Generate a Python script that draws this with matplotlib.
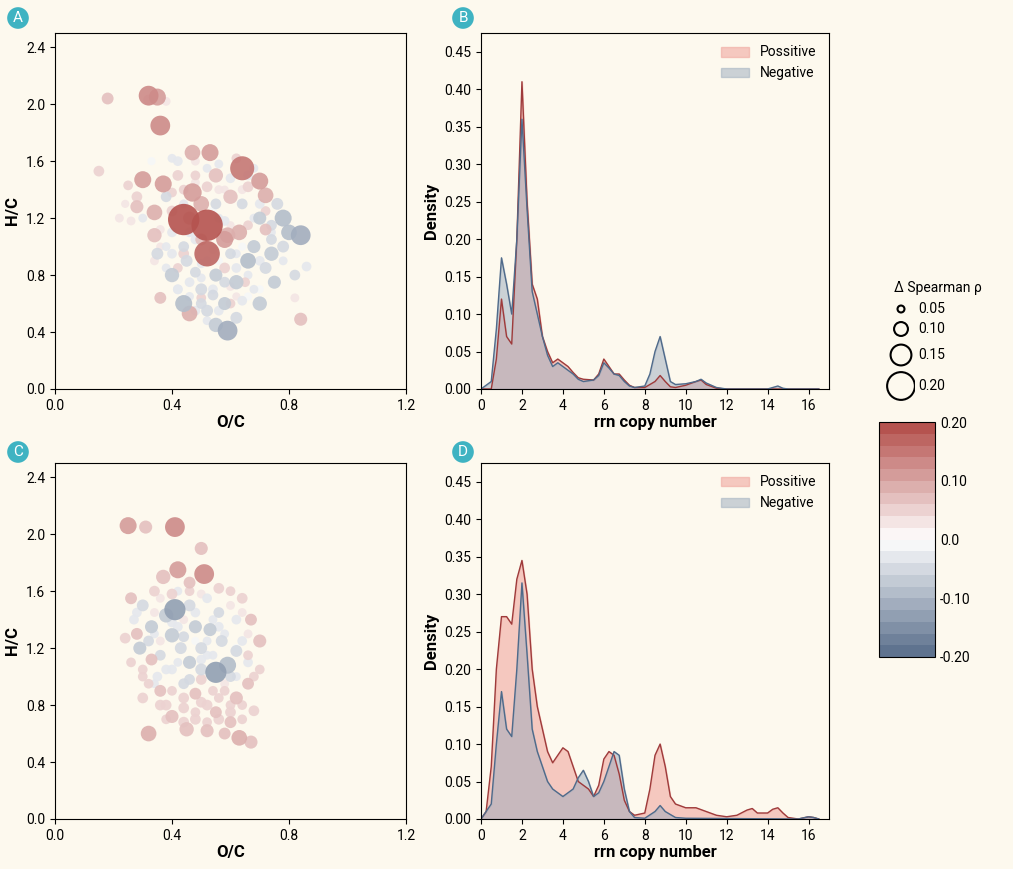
import numpy as np
import matplotlib.pyplot as plt
from matplotlib.colors import LinearSegmentedColormap, BoundaryNorm

BG = "#fdf9ee"
plt.rcParams["font.family"] = ["Roboto", "DejaVu Sans"]

# scatter A: (O/C, H/C, delta rho)
a_x = [0.44, 0.52, 0.52, 0.64, 0.36, 0.32, 0.35, 0.37, 0.47, 0.30, 0.34, 0.47, 0.53, 0.70, 0.72, 0.58, 0.63, 0.46, 0.84, 0.28,
       0.34, 0.55, 0.18, 0.15, 0.36, 0.59, 0.60, 0.50,
       0.84, 0.59, 0.78, 0.80, 0.40, 0.44, 0.55, 0.70, 0.66, 0.74, 0.75, 0.62, 0.55, 0.45, 0.35, 0.68, 0.76, 0.64, 0.58, 0.50,
       0.38, 0.70, 0.82, 0.52, 0.62, 0.44, 0.40, 0.66, 0.55, 0.72, 0.48, 0.60, 0.78, 0.86, 0.54, 0.46, 0.30, 0.40, 0.42, 0.33,
       0.28, 0.25, 0.42, 0.52, 0.62, 0.66, 0.58, 0.50, 0.65, 0.34, 0.44, 0.72, 0.26, 0.22, 0.60, 0.40, 0.50, 0.46, 0.82, 0.32, 0.38,
       0.56, 0.48, 0.68, 0.42, 0.52, 0.64, 0.74, 0.36, 0.58, 0.70, 0.48, 0.54, 0.60, 0.38, 0.66, 0.24, 0.56, 0.44, 0.62, 0.50,
       0.42, 0.46, 0.50, 0.54, 0.58, 0.62, 0.66, 0.70, 0.74, 0.78, 0.38, 0.42, 0.46, 0.50, 0.54, 0.58, 0.62, 0.66, 0.70, 0.74,
       0.40, 0.44, 0.48, 0.52, 0.56, 0.60, 0.64, 0.68, 0.72, 0.36, 0.40, 0.44, 0.48, 0.52, 0.56, 0.60, 0.64, 0.68, 0.48, 0.56]
a_y = [1.19, 1.15, 0.95, 1.55, 1.85, 2.06, 2.05, 1.44, 1.38, 1.47, 1.24, 1.66, 1.66, 1.46, 1.36, 1.05, 1.10, 0.53, 0.49, 1.28,
       1.08, 1.50, 2.04, 1.53, 0.64, 1.08, 1.35, 1.30,
       1.08, 0.41, 1.20, 1.10, 0.80, 0.60, 0.45, 0.60, 0.90, 0.95, 0.75, 0.75, 0.80, 0.90, 0.95, 1.00, 1.30, 1.30, 0.60, 0.70,
       1.35, 1.20, 0.80, 0.55, 0.50, 1.00, 1.10, 1.50, 1.30, 0.85, 0.82, 0.95, 1.00, 0.86, 0.66, 0.75, 1.20, 1.62, 1.60, 1.60,
       1.35, 1.43, 1.50, 1.42, 1.62, 1.42, 0.85, 0.64, 0.75, 0.90, 0.95, 1.12, 1.18, 1.20, 0.60, 1.25, 1.05, 1.20, 0.64, 2.03, 2.02,
       1.20, 1.05, 1.20, 0.70, 0.90, 1.00, 1.10, 1.00, 1.40, 0.70, 1.45, 1.25, 1.15, 0.85, 0.65, 1.30, 0.90, 1.30, 0.65, 0.78,
       0.70, 0.65, 0.60, 0.70, 0.75, 0.85, 0.80, 0.90, 1.05, 0.90, 1.00, 0.85, 1.10, 0.88, 0.98, 1.18, 0.95, 1.15, 1.30, 1.15,
       1.38, 1.30, 1.50, 1.55, 1.40, 1.48, 1.40, 1.55, 1.25, 1.12, 0.95, 1.40, 0.55, 0.48, 0.55, 0.72, 0.62, 0.70, 1.60, 1.58]
a_r = [0.20, 0.20, 0.16, 0.15, 0.12, 0.12, 0.10, 0.10, 0.11, 0.10, 0.09, 0.09, 0.10, 0.10, 0.09, 0.10, 0.09, 0.09, 0.07, 0.07,
       0.08, 0.08, 0.06, 0.05, 0.06, 0.09, 0.08, 0.09,
       -0.12, -0.12, -0.10, -0.09, -0.08, -0.10, -0.08, -0.08, -0.09, -0.08, -0.07, -0.08, -0.07, -0.06, -0.06, -0.07, -0.06, -0.05, -0.07, -0.06,
       -0.05, -0.07, -0.05, -0.06, -0.06, -0.05, -0.04, -0.04, -0.05, -0.06, -0.05, -0.05, -0.06, -0.04, -0.05, -0.04, -0.03, -0.03, -0.04, -0.02,
       0.05, 0.04, 0.05, 0.05, 0.04, 0.05, 0.05, 0.04, 0.04, 0.03, 0.05, 0.06, 0.03, 0.03, 0.04, 0.05, 0.06, 0.07, 0.03, 0.05, 0.03,
       -0.03, -0.04, -0.03, -0.04, -0.03, -0.02, -0.03, 0.02, 0.02, -0.02, 0.03, -0.02, 0.02, -0.03, -0.02, 0.02, -0.02, 0.02, 0.02, -0.03,
       -0.04, -0.03, -0.05, -0.04, -0.05, -0.04, -0.03, -0.04, -0.05, -0.03, -0.03, 0.04, -0.04, -0.03, 0.03, -0.04, -0.03, 0.04, -0.04, -0.05,
       0.04, -0.03, 0.04, -0.03, 0.03, -0.04, 0.03, -0.03, 0.04, 0.03, -0.04, 0.04, -0.04, -0.03, -0.04, 0.03, -0.04, -0.03, 0.03, -0.03]

# scatter C
c_x = [0.41, 0.25, 0.31, 0.50, 0.42, 0.51, 0.37, 0.32, 0.63, 0.67, 0.70, 0.45, 0.55, 0.40, 0.62, 0.48, 0.28, 0.26, 0.36, 0.60,
       0.66, 0.67, 0.33, 0.52, 0.58, 0.44, 0.64, 0.30, 0.50, 0.68, 0.24, 0.56, 0.34, 0.46, 0.40,
       0.41, 0.55, 0.59, 0.40, 0.38, 0.29, 0.33, 0.48, 0.46, 0.50, 0.53, 0.43, 0.30, 0.57, 0.62, 0.50, 0.36, 0.46, 0.56, 0.44,
       0.62, 0.35, 0.27, 0.52, 0.60, 0.40, 0.66,
       0.30, 0.38, 0.54, 0.64, 0.48, 0.36, 0.58, 0.44, 0.70, 0.26, 0.52, 0.42, 0.60, 0.34, 0.56, 0.48, 0.66, 0.32, 0.50, 0.62,
       0.28, 0.32, 0.36, 0.40, 0.44, 0.48, 0.52, 0.56, 0.60, 0.64, 0.30, 0.34, 0.38, 0.42, 0.46, 0.50, 0.54, 0.58, 0.62, 0.66,
       0.36, 0.40, 0.44, 0.48, 0.52, 0.56, 0.60, 0.64, 0.44, 0.52, 0.38, 0.58, 0.68, 0.46, 0.54, 0.34, 0.42, 0.50, 0.60, 0.64]
c_y = [2.05, 2.06, 2.05, 1.90, 1.75, 1.72, 1.70, 0.60, 0.57, 0.54, 1.25, 0.63, 0.75, 0.72, 0.85, 0.88, 1.30, 1.55, 0.90, 0.68,
       0.95, 1.40, 1.12, 0.62, 0.60, 0.78, 1.55, 0.85, 0.98, 0.76, 1.27, 1.62, 1.60, 1.66, 1.58,
       1.47, 1.03, 1.08, 1.29, 1.43, 1.20, 1.35, 1.35, 1.10, 1.20, 1.33, 1.20, 1.50, 1.25, 1.18, 1.05, 1.15, 1.50, 1.45, 0.95,
       1.40, 1.00, 1.40, 1.55, 1.00, 1.05, 1.10,
       1.00, 0.80, 0.90, 0.70, 0.70, 1.25, 1.30, 1.40, 1.05, 1.10, 1.15, 1.60, 0.80, 1.45, 0.70, 1.25, 1.30, 0.95, 0.82, 1.20,
       1.45, 1.25, 1.55, 1.38, 1.28, 1.45, 1.25, 1.35, 1.50, 1.25, 1.05, 0.95, 1.05, 1.10, 0.98, 1.12, 1.15, 0.90, 1.00, 1.15,
       0.80, 0.90, 0.85, 0.75, 0.80, 0.85, 0.75, 0.80, 0.68, 0.68, 0.70, 0.95, 1.00, 1.60, 1.40, 1.30, 1.35, 1.58, 1.60, 1.45]
c_r = [0.12, 0.10, 0.07, 0.07, 0.10, 0.12, 0.08, 0.09, 0.09, 0.07, 0.07, 0.08, 0.06, 0.07, 0.07, 0.06, 0.06, 0.06, 0.06, 0.06,
       0.06, 0.06, 0.06, 0.07, 0.06, 0.05, 0.05, 0.05, 0.05, 0.05, 0.05, 0.05, 0.05, 0.06, 0.05,
       -0.13, -0.13, -0.10, -0.08, -0.08, -0.07, -0.07, -0.07, -0.07, -0.06, -0.07, -0.06, -0.06, -0.06, -0.06, -0.06, -0.05, -0.06, -0.05, -0.05,
       -0.04, -0.04, -0.04, -0.04, -0.05, -0.04, -0.04,
       0.04, 0.05, 0.04, 0.04, 0.05, 0.03, -0.03, 0.03, 0.04, 0.04, -0.03, -0.03, 0.04, 0.03, 0.05, -0.02, 0.03, 0.04, 0.05, -0.02,
       -0.04, -0.05, 0.03, -0.04, -0.05, -0.04, -0.03, -0.04, 0.03, -0.04, 0.04, -0.03, -0.04, -0.03, -0.05, -0.04, -0.03, 0.04, -0.03, 0.04,
       0.05, 0.04, 0.05, 0.04, 0.05, 0.04, 0.05, 0.04, 0.05, 0.04, 0.04, 0.03, 0.04, 0.04, -0.03, -0.03, -0.04, 0.03, 0.04, 0.03]

# densities
bp_x = [0, 0.5, 0.75, 1.0, 1.25, 1.5, 1.75, 2.0, 2.25, 2.5, 2.75, 3.0, 3.25, 3.5, 3.75, 4.0, 4.25, 4.5, 4.75, 5.0, 5.5, 5.75, 6.0, 6.25,
        6.5, 6.75, 7.0, 7.25, 7.5, 8.0, 8.5, 8.75, 9.0, 9.25, 9.5, 10.0, 10.5, 10.75, 11.0, 11.5, 12.0, 16.5]
bp_y = [0, 0.0, 0.04, 0.12, 0.07, 0.06, 0.20, 0.41, 0.25, 0.14, 0.12, 0.07, 0.05, 0.035, 0.04, 0.035, 0.03, 0.022, 0.015, 0.013, 0.012, 0.02, 0.04, 0.03,
        0.02, 0.02, 0.012, 0.005, 0.002, 0.002, 0.01, 0.018, 0.01, 0.003, 0.002, 0.005, 0.01, 0.012, 0.006, 0.001, 0, 0]
bn_x = [0, 0.5, 0.75, 1.0, 1.25, 1.5, 1.75, 2.0, 2.25, 2.5, 2.75, 3.0, 3.25, 3.5, 3.75, 4.0, 4.25, 4.5, 4.75, 5.0, 5.5, 5.75, 6.0, 6.25,
        6.5, 6.75, 7.0, 7.25, 7.5, 8.0, 8.25, 8.5, 8.75, 9.0, 9.25, 9.5, 10.0, 10.5, 10.75, 11.0, 11.5, 12.0, 14.0, 14.25, 14.5, 14.75, 15.0, 16.5]
bn_y = [0, 0.01, 0.08, 0.175, 0.14, 0.10, 0.20, 0.36, 0.24, 0.13, 0.10, 0.07, 0.045, 0.03, 0.035, 0.03, 0.025, 0.02, 0.013, 0.01, 0.012, 0.018, 0.035, 0.028,
        0.02, 0.018, 0.01, 0.004, 0.002, 0.004, 0.02, 0.05, 0.07, 0.04, 0.01, 0.006, 0.007, 0.01, 0.013, 0.008, 0.002, 0, 0, 0.002, 0.004, 0.001, 0, 0]
dp_x = [0, 0.25, 0.5, 0.75, 1.0, 1.25, 1.5, 1.75, 2.0, 2.25, 2.5, 2.75, 3.0, 3.25, 3.5, 3.75, 4.0, 4.25, 4.5, 4.75, 5.0, 5.25, 5.5, 5.75, 6.0,
        6.25, 6.5, 6.75, 7.0, 7.25, 7.5, 8.0, 8.25, 8.5, 8.75, 9.0, 9.25, 9.5, 10.0, 10.5, 11.0, 11.5, 12.0, 12.5, 13.0, 13.25, 13.5, 14.0,
        14.25, 14.5, 14.75, 15.0, 15.5, 16.0, 16.25, 16.5]
dp_y = [0, 0.01, 0.07, 0.20, 0.27, 0.27, 0.26, 0.32, 0.345, 0.30, 0.20, 0.15, 0.12, 0.09, 0.075, 0.085, 0.095, 0.09, 0.07, 0.05, 0.045, 0.04, 0.03, 0.045, 0.08,
        0.09, 0.085, 0.06, 0.025, 0.01, 0.005, 0.008, 0.04, 0.085, 0.10, 0.07, 0.03, 0.02, 0.015, 0.015, 0.01, 0.005, 0.003, 0.005, 0.012, 0.014, 0.008, 0.008,
        0.013, 0.015, 0.008, 0.002, 0.0, 0.003, 0.002, 0]
dn_x = [0, 0.5, 0.75, 1.0, 1.25, 1.5, 1.75, 2.0, 2.25, 2.5, 2.75, 3.0, 3.25, 3.5, 3.75, 4.0, 4.25, 4.5, 4.75, 5.0, 5.25, 5.5, 5.75, 6.0,
        6.25, 6.5, 6.75, 7.0, 7.25, 7.5, 8.0, 8.5, 8.75, 9.0, 9.5, 10.0, 15.5, 16.0, 16.25, 16.5]
dn_y = [0, 0.02, 0.10, 0.17, 0.12, 0.11, 0.20, 0.315, 0.22, 0.12, 0.09, 0.07, 0.05, 0.04, 0.035, 0.03, 0.035, 0.04, 0.055, 0.065, 0.05, 0.03, 0.035, 0.05,
        0.07, 0.09, 0.085, 0.04, 0.01, 0.002, 0.001, 0.01, 0.018, 0.01, 0.002, 0.001, 0, 0.003, 0.002, 0]

RED = "#b5534f"
BLUE = "#5f738f"
cmap = LinearSegmentedColormap.from_list("rb", [BLUE, "#ffffff", RED])
norm = BoundaryNorm(np.linspace(-0.2, 0.2, 21), cmap.N)

fig = plt.figure(figsize=(10.13, 8.69), dpi=100, facecolor=BG)
W, H = 1013, 869


def px_axes(l, t, r, b):
    return fig.add_axes([l / W, 1 - b / H, (r - l) / W, (b - t) / H])


def scatter_panel(ax, xs, ys, rs):
    xs, ys, rs = np.array(xs), np.array(ys), np.array(rs)
    order = np.argsort(np.abs(rs))
    ax.scatter(xs[order], ys[order], s=12000 * rs[order] ** 2 + 30, c=rs[order], cmap=cmap, norm=norm,
               alpha=0.9, edgecolors="none")
    ax.set_xlim(0, 1.2)
    ax.set_ylim(0, 2.5)
    ax.set_xticks([0, 0.4, 0.8, 1.2])
    ax.set_yticks([0, 0.4, 0.8, 1.2, 1.6, 2.0, 2.4])
    ax.set_xlabel("O/C", fontsize=12, fontweight="bold", labelpad=2)
    ax.set_ylabel("H/C", fontsize=12, fontweight="bold")


def density_panel(ax, px, py, nx, ny):
    ax.fill_between(px, py, color="#f0a8a0", alpha=0.6, label="Possitive")
    ax.plot(px, py, color="#9e3b3b", lw=1)
    ax.fill_between(nx, ny, color="#9aaabd", alpha=0.5, label="Negative")
    ax.plot(nx, ny, color="#4f6a8a", lw=1)
    ax.set_xlim(0, 17)
    ax.set_ylim(0, 0.475)
    ax.set_xticks(range(0, 17, 2))
    ax.set_yticks(np.arange(0, 0.46, 0.05))
    ax.set_yticklabels([f"{v:.2f}" for v in np.arange(0, 0.46, 0.05)])
    ax.set_xlabel("rrn copy number", fontsize=12, fontweight="bold", labelpad=2)
    ax.set_ylabel("Density", fontsize=12, fontweight="bold")
    ax.legend(loc="upper right", frameon=False, fontsize=10, handlelength=2)


axes = [px_axes(55, 33, 406, 389), px_axes(481, 33, 829, 389),
        px_axes(55, 463, 406, 819), px_axes(481, 463, 829, 819)]
for ax in axes:
    ax.set_facecolor(BG)
    ax.tick_params(labelsize=10)
scatter_panel(axes[0], a_x, a_y, a_r)
density_panel(axes[1], bp_x, bp_y, bn_x, bn_y)
scatter_panel(axes[2], c_x, c_y, c_r)
density_panel(axes[3], dp_x, dp_y, dn_x, dn_y)

for lab, (x, y) in zip("ABCD", [(18, 18), (463, 18), (18, 452), (463, 452)]):
    fig.text(x / W, 1 - y / H, lab, ha="center", va="center", color="white", fontsize=11,
             bbox=dict(boxstyle="circle,pad=0.25", fc="#3fb3c2", ec="none"))

# size legend
fig.text(938 / W, 1 - 288 / H, "Δ Spearman ρ", ha="center", va="center", fontsize=10)
sizes = [0.05, 0.10, 0.15, 0.20]
ys_leg = [309, 329, 355, 386]
for v, yy in zip(sizes, ys_leg):
    fig.text(918 / W, 1 - yy / H, f"{v:.2f}", va="center", fontsize=10)
lax = px_axes(880, 290, 915, 405)
lax.set_xlim(0, 1)
lax.set_ylim(405, 290)
lax.axis("off")
lax.scatter([0.6] * 4, ys_leg, s=[10000 * v ** 2 for v in sizes], facecolors="none", edgecolors="black", lw=1.5)

# colorbar
cax = px_axes(879, 422, 935, 657)
sm = plt.cm.ScalarMappable(cmap=cmap, norm=norm)
cb = fig.colorbar(sm, cax=cax, ticks=[0.2, 0.1, 0.0, -0.1, -0.2])
cb.ax.minorticks_off()
cb.ax.set_yticklabels(["0.20", "0.10", "0.0", "-0.10", "-0.20"])
cb.ax.tick_params(size=0, labelsize=10)

fig.savefig("out.png", dpi=100, facecolor=BG)
